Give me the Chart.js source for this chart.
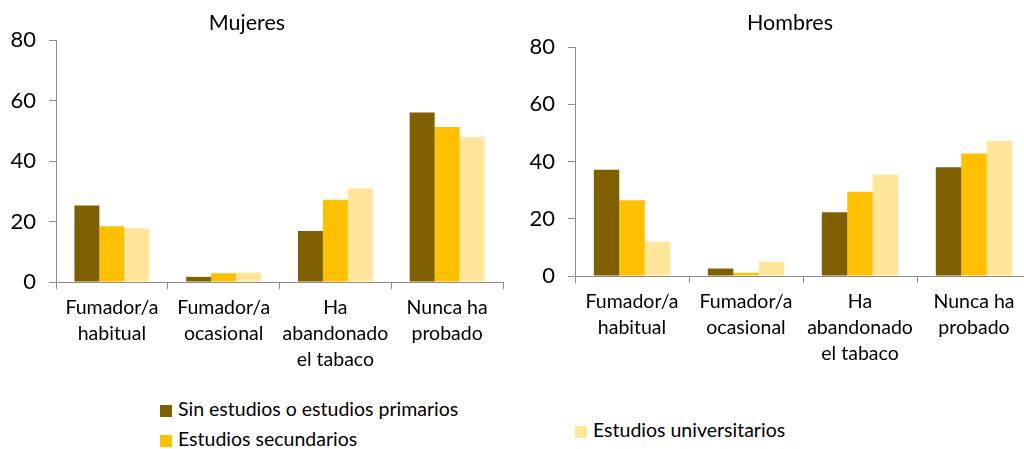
<!DOCTYPE html>
<html lang="es">
<head>
<meta charset="utf-8">
<title>Consumo de tabaco según nivel de estudios</title>
<script src="https://cdn.jsdelivr.net/npm/chart.js@4/dist/chart.umd.min.js"></script>
<style>
  html, body {
    margin: 0;
    padding: 0;
    width: 1024px;
    height: 449px;
    overflow: hidden;
    background: #fff;
    font-family: Lato, "Open Sans", sans-serif;
    color: #000;
  }
  .panel {
    position: absolute;
    top: 0;
    height: 390px;
  }
  #panelMujeres { left: 0; width: 512px; }
  #panelHombres { left: 512px; width: 528px; }
  .title {
    position: absolute;
    top: 10px;
    font-size: 21.5px;
    line-height: 24px;
    transform: translateX(-50%);
    white-space: nowrap;
  }
  .legend-item {
    position: absolute;
    font-size: 19.5px;
    line-height: 20px;
    white-space: nowrap;
  }
  .legend-item .box {
    display: inline-block;
    width: 12px;
    height: 12px;
    margin-right: 6px;
    vertical-align: -1px;
  }
</style>
</head>
<body>
  <div class="panel" id="panelMujeres"><canvas id="chartMujeres"></canvas></div>
  <div class="panel" id="panelHombres"><canvas id="chartHombres"></canvas></div>

  <div class="title" style="left:247px">Mujeres</div>
  <div class="title" style="left:790px">Hombres</div>

  <div class="legend-item" style="left:160px; top:399px"><span class="box" style="background:#7F6000"></span>Sin estudios o estudios primarios</div>
  <div class="legend-item" style="left:160px; top:429px"><span class="box" style="background:#FFC000"></span>Estudios secundarios</div>
  <div class="legend-item" style="left:575px; top:420px"><span class="box" style="background:#FFE699"></span>Estudios universitarios</div>

<script>
  "use strict";

  // Categories (multi-line labels) and values
  var categories = [
    ["Fumador/a", "habitual"],
    ["Fumador/a", "ocasional"],
    ["Ha", "abandonado", "el tabaco"],
    ["Nunca ha", "probado"]
  ];
  var seriesNames = [
    "Sin estudios o estudios primarios",
    "Estudios secundarios",
    "Estudios universitarios"
  ];
  var seriesColors = ["#7F6000", "#FFC000", "#FFE699"];

  var mujeresSinEstudios = [25.3, 1.7, 16.9, 56.0];
  var mujeresSecundarios = [18.4, 2.9, 27.2, 51.2];
  var mujeresUniversitarios = [17.8, 3.1, 31.0, 47.9];

  var hombresSinEstudios = [37.1, 2.6, 22.3, 38.0];
  var hombresSecundarios = [26.5, 1.1, 29.4, 42.8];
  var hombresUniversitarios = [12.0, 4.9, 35.4, 47.2];

  var yTicks = [0, 20, 40, 60, 80];

  var axisGray = "#8c8c8c";
  var fontFamily = "Lato, 'Open Sans', sans-serif";

  // Build one grouped bar chart
  function renderPanel(canvasId, values, layout) {
    var datasets = values.map(function (data, i) {
      return {
        label: seriesNames[i],
        data: data,
        backgroundColor: seriesColors[i],
        borderWidth: 0,
        categoryPercentage: 0.67,
        barPercentage: 1.0
      };
    });

    return new Chart(document.getElementById(canvasId), {
      type: "bar",
      data: { labels: categories, datasets: datasets },
      options: {
        responsive: true,
        maintainAspectRatio: false,
        animation: false,
        layout: {
          padding: { top: layout.top, right: layout.right, bottom: 0, left: 0 }
        },
        plugins: {
          legend: { display: false },
          title: { display: false },
          tooltip: { enabled: false }
        },
        scales: {
          x: {
            grid: {
              offset: true,
              drawOnChartArea: false,
              drawTicks: true,
              tickLength: 7,
              color: axisGray
            },
            border: { color: axisGray, width: 1 },
            ticks: {
              color: "#000",
              padding: 6,
              maxRotation: 0,
              autoSkip: false,
              font: { family: fontFamily, size: 19.5, lineHeight: 1.333 }
            },
            afterFit: function (scale) { scale.height = layout.xHeight; }
          },
          y: {
            min: yTicks[0],
            max: yTicks[yTicks.length - 1],
            grid: {
              drawOnChartArea: false,
              drawTicks: true,
              tickLength: 7,
              color: axisGray
            },
            border: { color: axisGray, width: 1 },
            ticks: {
              stepSize: yTicks[1] - yTicks[0],
              color: "#000",
              padding: 13,
              font: { family: fontFamily, size: 22 }
            },
            afterFit: function (scale) { scale.width = layout.yWidth; }
          }
        }
      }
    });
  }

  renderPanel("chartMujeres",
    [mujeresSinEstudios, mujeresSecundarios, mujeresUniversitarios],
    { top: 40, right: 9, xHeight: 108, yWidth: 56 });

  renderPanel("chartHombres",
    [hombresSinEstudios, hombresSecundarios, hombresUniversitarios],
    { top: 47, right: 9, xHeight: 114, yWidth: 63 });
</script>
</body>
</html>
